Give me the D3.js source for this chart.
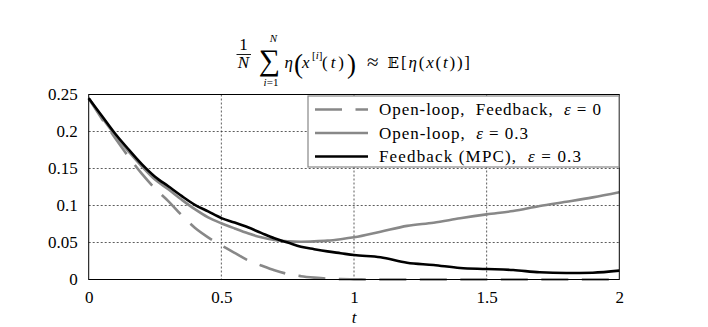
<!DOCTYPE html>
<html>
<head>
<meta charset="utf-8">
<script src="https://cdn.jsdelivr.net/npm/d3@7"></script>
<style>
  body { margin: 0; background: #fff; }
  svg text { font-family: "Liberation Serif", "DejaVu Serif", serif; fill: #000; }
</style>
</head>
<body>
<script>
// sample times (finer where the curves bend)
const tValues = [0, 0.05, 0.1, 0.15, 0.2, 0.25, 0.3, 0.35, 0.4, 0.45, 0.5,
  0.55, 0.6, 0.65, 0.7, 0.75, 0.8, 0.85, 0.9, 0.95, 1.0,
  1.1, 1.2, 1.3, 1.4, 1.5, 1.6, 1.7, 1.8, 1.9, 2.0];

// open-loop / feedback, eps = 0 (dashed)
const nominal = [0.245, 0.217, 0.191, 0.166, 0.143, 0.123, 0.106, 0.087, 0.070, 0.057, 0.046,
  0.036, 0.026, 0.019, 0.0125, 0.0075, 0.0045, 0.0025, 0.001, 0.0005, 0.0002,
  0, 0, 0, 0, 0, 0, 0, 0, 0, 0];
// open-loop, eps = 0.3
const openLoop = [0.245, 0.219, 0.195, 0.173, 0.153, 0.135, 0.122, 0.108, 0.095, 0.084, 0.076,
  0.069, 0.0624, 0.057, 0.0534, 0.0515, 0.051, 0.0515, 0.0525, 0.0545, 0.057,
  0.0646, 0.0725, 0.0768, 0.0827, 0.088, 0.0926, 0.0993, 0.105, 0.111, 0.118];
// feedback (MPC), eps = 0.3
const feedback = [0.245, 0.221, 0.197, 0.176, 0.156, 0.139, 0.126, 0.113, 0.101, 0.092, 0.083,
  0.077, 0.0705, 0.063, 0.0557, 0.050, 0.0443, 0.041, 0.038, 0.0355, 0.033,
  0.030, 0.0227, 0.0196, 0.0155, 0.0142, 0.0128, 0.0097, 0.0088, 0.0092, 0.012];

const xTicks = [0, 0.5, 1, 1.5, 2];
const xTickLabels = ['0', '0.5', '1', '1.5', '2'];
const yTicks = [0, 0.05, 0.1, 0.15, 0.2, 0.25];
const yTickLabels = ['0', '0.05', '0.1', '0.15', '0.2', '0.25'];

const legendLabels = ['Open-loop,  Feedback,  ', 'Open-loop,  ', 'Feedback (MPC),  '];
const legendEps = ['0', '0.3', '0.3'];

const W = 708, H = 327;
const plot = { left: 88.7, right: 619.3, top: 94.5, bottom: 279.5 };
const FONT = '"Liberation Serif", "DejaVu Serif", serif';

const svg = d3.select('body').append('svg')
  .attr('width', W)
  .attr('height', H);

const x = d3.scaleLinear().domain([0, 2]).range([plot.left, plot.right]);
const y = d3.scaleLinear().domain([0, 0.25]).range([plot.bottom, plot.top]);

// grid
const grid = svg.append('g')
  .attr('stroke', '#333')
  .attr('stroke-width', 0.8)
  .attr('stroke-dasharray', '2,2');
grid.selectAll('.gx')
  .data(xTicks.slice(1, -1))
  .enter().append('line')
  .attr('x1', d => x(d)).attr('x2', d => x(d))
  .attr('y1', plot.top).attr('y2', plot.bottom);
grid.selectAll('.gy')
  .data(yTicks.slice(1, -1))
  .enter().append('line')
  .attr('y1', d => y(d)).attr('y2', d => y(d))
  .attr('x1', plot.left).attr('x2', plot.right);

// axes (labels only, frame drawn separately)
const xAxis = d3.axisBottom(x)
  .tickValues(xTicks)
  .tickSize(0)
  .tickPadding(11)
  .tickFormat((d, i) => xTickLabels[i]);
svg.append('g')
  .attr('transform', `translate(0,${plot.bottom})`)
  .attr('font-family', FONT)
  .call(xAxis)
  .call(g => g.select('.domain').remove())
  .selectAll('text')
  .attr('font-size', 17);

const yAxis = d3.axisLeft(y)
  .tickValues(yTicks)
  .tickSize(0)
  .tickPadding(11)
  .tickFormat((d, i) => yTickLabels[i]);
svg.append('g')
  .attr('transform', `translate(${plot.left},0)`)
  .attr('font-family', FONT)
  .call(yAxis)
  .call(g => g.select('.domain').remove())
  .selectAll('text')
  .attr('font-size', 17);

svg.append('text')
  .attr('x', x(1))
  .attr('y', 323)
  .attr('text-anchor', 'middle')
  .attr('font-size', 17)
  .attr('font-style', 'italic')
  .text('t');

// curves
const line = (vals) => d3.line()
  .x((d, i) => x(tValues[i]))
  .y(d => y(d))
  .curve(d3.curveMonotoneX)(vals);

svg.append('path')
  .attr('d', line(nominal))
  .attr('fill', 'none')
  .attr('stroke', '#888')
  .attr('stroke-width', 2.6)
  .attr('stroke-dasharray', '27,13.5');
svg.append('path')
  .attr('d', line(openLoop))
  .attr('fill', 'none')
  .attr('stroke', '#888')
  .attr('stroke-width', 2.6);
svg.append('path')
  .attr('d', line(feedback))
  .attr('fill', 'none')
  .attr('stroke', '#000')
  .attr('stroke-width', 2.6);

// frame
svg.append('rect')
  .attr('x', plot.left).attr('y', plot.top)
  .attr('width', plot.right - plot.left)
  .attr('height', plot.bottom - plot.top)
  .attr('fill', 'none')
  .attr('stroke', '#000')
  .attr('stroke-width', 1);

// legend
const leg = svg.append('g').attr('transform', 'translate(308,96)');
leg.append('rect')
  .attr('width', 311).attr('height', 71)
  .attr('fill', '#fff')
  .attr('stroke', '#888')
  .attr('stroke-width', 1.2);
const legStyles = [
  { stroke: '#888', dash: '27,13.5' },
  { stroke: '#888', dash: null },
  { stroke: '#000', dash: null },
];
const legWidths = [222, 149, 202];
legendLabels.forEach((lab, i) => {
  const cy = 13.5 + i * 23.5;
  leg.append('line')
    .attr('x1', 7).attr('x2', 60)
    .attr('y1', cy).attr('y2', cy)
    .attr('stroke', legStyles[i].stroke)
    .attr('stroke-width', 2.6)
    .attr('stroke-dasharray', legStyles[i].dash);
  const t = leg.append('text')
    .attr('x', 71).attr('y', cy + 5.5)
    .attr('font-size', 17)
    .attr('textLength', legWidths[i])
    .attr('lengthAdjust', 'spacing')
    .style('white-space', 'pre');
  t.append('tspan').text(lab);
  t.append('tspan').attr('font-style', 'italic').text('ε');
  t.append('tspan').text(' = ' + legendEps[i]);
});

// title: (1/N) sum eta(x^[i](t)) ~ E[eta(x(t))]
const title = svg.append('g');
const piece = (str, px, py, size, italic, anchor) => title.append('text')
  .attr('x', px).attr('y', py)
  .attr('font-size', size)
  .attr('font-style', italic ? 'italic' : 'normal')
  .attr('text-anchor', anchor || 'start')
  .text(str);
piece('1', 243.5, 50, 17, false, 'middle');
title.append('line')
  .attr('x1', 236.5).attr('x2', 251)
  .attr('y1', 54.5).attr('y2', 54.5)
  .attr('stroke', '#000').attr('stroke-width', 0.9);
piece('N', 243.5, 68, 17, true, 'middle');
piece('∑', 269.5, 70, 30, false, 'middle');
piece('N', 273.5, 42, 11, true, 'middle');
const sub = title.append('text')
  .attr('x', 271).attr('y', 86)
  .attr('font-size', 11)
  .attr('text-anchor', 'middle');
sub.append('tspan').attr('font-style', 'italic').text('i');
sub.append('tspan').text('=1');
piece('η', 284.5, 68, 17, true);
piece('(', 294, 73, 27, false);
piece('x', 302, 68, 17, true);
const sup = title.append('text')
  .attr('x', 312).attr('y', 59)
  .attr('font-size', 11);
sup.append('tspan').text('[');
sup.append('tspan').attr('font-style', 'italic').text('i');
sup.append('tspan').text(']');
const tt = title.append('text').attr('x', 322).attr('y', 68).attr('font-size', 17)
  .attr('textLength', 22).attr('lengthAdjust', 'spacing');
tt.append('tspan').text('(');
tt.append('tspan').attr('font-style', 'italic').text('t');
tt.append('tspan').text(')');
piece(')', 347, 73, 27, false);
piece('≈', 367, 69, 21, false);
piece('𝔼', 387.5, 68, 15, false);
const rhs = title.append('text').attr('x', 401).attr('y', 68).attr('font-size', 17)
  .attr('textLength', 69).attr('lengthAdjust', 'spacing');
rhs.append('tspan').text('[');
rhs.append('tspan').attr('font-style', 'italic').text('η');
rhs.append('tspan').text('(');
rhs.append('tspan').attr('font-style', 'italic').text('x');
rhs.append('tspan').text('(');
rhs.append('tspan').attr('font-style', 'italic').text('t');
rhs.append('tspan').text('))]');
</script>
</body>
</html>
